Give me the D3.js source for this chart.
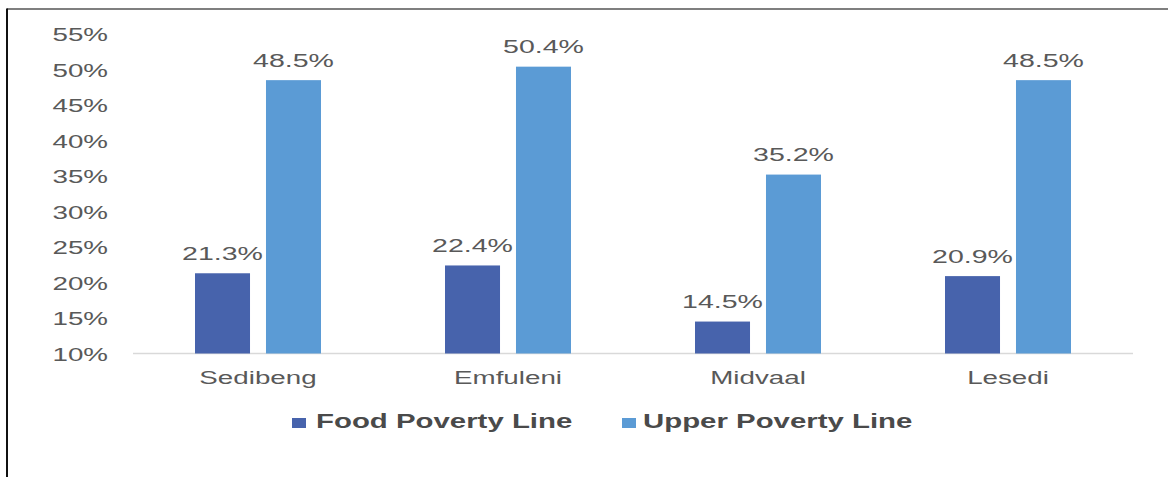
<!DOCTYPE html>
<html>
<head>
<meta charset="utf-8">
<script src="https://cdn.jsdelivr.net/npm/d3@7"></script>
<style>
  html, body { margin: 0; padding: 0; background: #fff; }
  svg { display: block; }
  text { font-family: "Liberation Sans", Arial, sans-serif; }
</style>
</head>
<body>
<svg id="chart" width="1168" height="477"></svg>
<script>
// Municipalities in the Sedibeng district
const categories = ["Sedibeng", "Emfuleni", "Midvaal", "Lesedi"];
// Share of population below each poverty line (%)
const seriesNames = ["Food Poverty Line", "Upper Poverty Line"];
const foodPoverty = [21.3, 22.4, 14.5, 20.9];
const upperPoverty = [48.5, 50.4, 35.2, 48.5];
const yTicks = [10, 15, 20, 25, 30, 35, 40, 45, 50, 55];

const colors = { "Food Poverty Line": "#4763ac", "Upper Poverty Line": "#5b9bd5" };
const textColor = "#595959";
const stretch = 1.5; // wide-set lettering

const svg = d3.select("#chart");

// frame lines
svg.append("line").attr("x1", 7).attr("x2", 1168).attr("y1", 9).attr("y2", 9)
  .attr("stroke", "#555").attr("stroke-width", 1.5);
svg.append("line").attr("x1", 7).attr("x2", 7).attr("y1", 8.5).attr("y2", 477)
  .attr("stroke", "#111").attr("stroke-width", 2);

const y = d3.scaleLinear().domain([10, 55]).range([353.5, 34]);
const x0 = d3.scaleBand().domain(categories).range([133, 1133])
  .paddingInner(0.496).paddingOuter(0.248);
const x1 = d3.scaleBand().domain(seriesNames).range([0, x0.bandwidth()]).paddingInner(0.225);

function stretchedText(g, x, yPos, str, anchor, size, weight, fill) {
  return g.append("text")
    .attr("transform", `translate(${x},${yPos}) scale(${stretch},1)`)
    .attr("text-anchor", anchor)
    .style("font-size", size + "px")
    .style("font-weight", weight || "normal")
    .attr("fill", fill || textColor)
    .text(str);
}

// y-axis tick labels (no axis line, no gridlines)
const yAxis = svg.append("g").attr("transform", "translate(108,0)")
  .call(d3.axisLeft(y).tickValues(yTicks).tickSize(0).tickPadding(0).tickFormat(d => d + "%"));
yAxis.select(".domain").remove();
yAxis.selectAll(".tick text").each(function () {
  const t = d3.select(this);
  t.attr("x", null).attr("dy", null).attr("y", 6.5)
    .attr("transform", `scale(${stretch},1)`)
    .attr("fill", textColor)
    .style("font-size", "18.5px")
    .style("font-family", '"Liberation Sans", Arial, sans-serif');
});

// baseline
svg.append("line").attr("x1", 133).attr("x2", 1133).attr("y1", y(10)).attr("y2", y(10))
  .attr("stroke", "#d9d9d9").attr("stroke-width", 1.5);

// bars
const rows = categories.map((c, i) => ({
  cat: c,
  vals: [
    { key: seriesNames[0], v: foodPoverty[i] },
    { key: seriesNames[1], v: upperPoverty[i] }
  ]
}));

const groups = svg.append("g").selectAll("g").data(rows).join("g")
  .attr("transform", d => `translate(${x0(d.cat)},0)`);

groups.selectAll("rect").data(d => d.vals).join("rect")
  .attr("x", d => x1(d.key))
  .attr("width", x1.bandwidth())
  .attr("y", d => y(d.v))
  .attr("height", d => y(10) - y(d.v))
  .attr("fill", d => colors[d.key]);

// value labels
groups.each(function (d) {
  const g = d3.select(this);
  d.vals.forEach(s => {
    stretchedText(g, x1(s.key) + x1.bandwidth() / 2, y(s.v) - 13.5, s.v.toFixed(1) + "%", "middle", 19);
  });
});

// category labels
categories.forEach(c => {
  stretchedText(svg, x0(c) + x0.bandwidth() / 2, 384, c, "middle", 18.5);
});

// legend
const legendItems = [
  { key: seriesNames[0], sx: 292, tx: 316 },
  { key: seriesNames[1], sx: 622, tx: 643 }
];
legendItems.forEach(it => {
  svg.append("rect").attr("x", it.sx).attr("y", 418).attr("width", 14).attr("height", 10)
    .attr("fill", colors[it.key]);
  stretchedText(svg, it.tx, 428, it.key, "start", 19.6, "bold", "#4a4a4a");
});
</script>
</body>
</html>
